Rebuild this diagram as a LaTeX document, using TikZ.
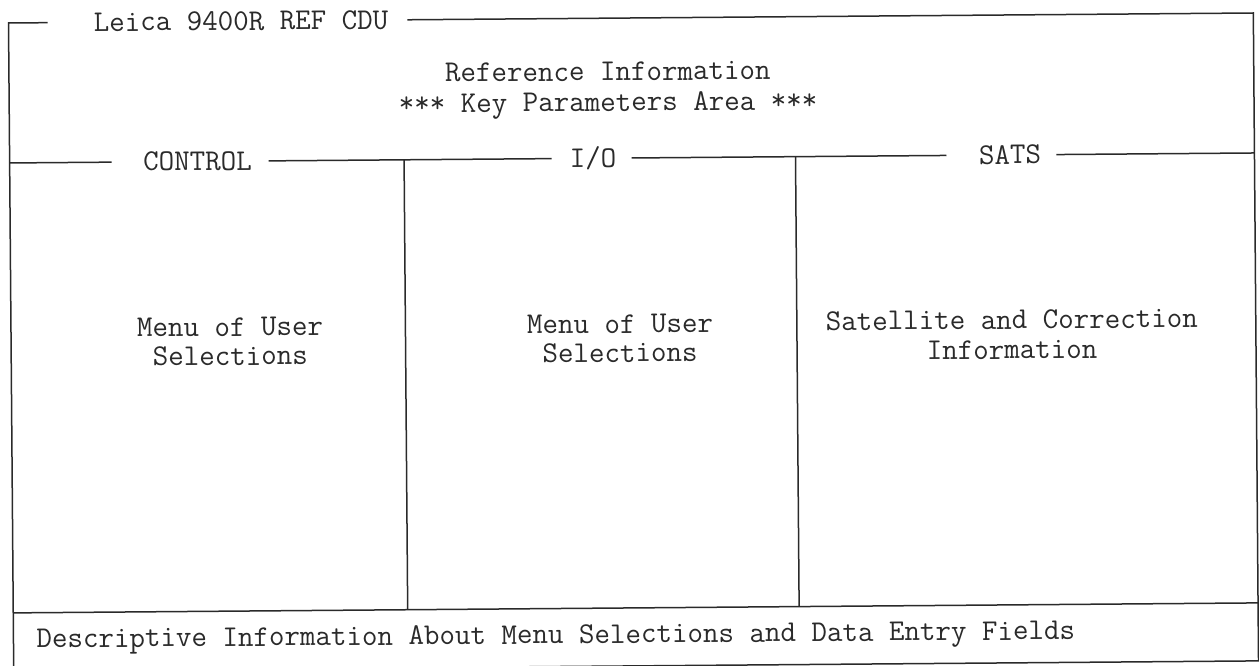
\documentclass[tikz,border=0pt]{standalone}
\usepackage{fontspec}
\definecolor{ink}{HTML}{2A2A2A}
\begin{document}
\begin{tikzpicture}[x=1pt,y=-1pt,
  frame/.style={draw=ink,line width=1.5pt},
  lbl/.style={font=\ttfamily\fontsize{30.1}{28}\selectfont, text=ink, inner sep=0pt, anchor=base, align=center},
  ]
\useasboundingbox (0,0) rectangle (1259,666);
\fill[white] (0,0) rectangle (1259,666);
\begin{scope}[rotate around={0.46:(630,333)}, transform shape]
  % frame corners
  \coordinate (TLa) at (50,18);
  \coordinate (TL) at (11,18);
  \coordinate (BL) at (11,666);
  \coordinate (BR) at (1256,666);
  \coordinate (TR) at (1256,18);
  \coordinate (TRa) at (410,18);
  % middle line pieces
  \coordinate (M0) at (11,158);
  \coordinate (M1) at (113,158);
  \coordinate (M2) at (270,158);
  \coordinate (M3) at (553,158);
  \coordinate (M4) at (633,158);
  \coordinate (M5) at (948,158);
  \coordinate (M6) at (1058,158);
  \coordinate (M7) at (1256,158);
  % dividers
  \coordinate (D1t) at (405.5,158);
  \coordinate (D1b) at (405.5,608);
  \coordinate (D2t) at (797,158);
  \coordinate (D2b) at (797,608);
  \coordinate (B0) at (11,608);
  \coordinate (B1) at (1256,608);

  \draw[frame] (TLa) -- (TL) -- (BL) -- (BR) -- (TR) -- (TRa);
  \draw[frame] (M0) -- (M1);
  \draw[frame] (M2) -- (M3);
  \draw[frame] (M4) -- (M5);
  \draw[frame] (M6) -- (M7);
  \draw[frame] (D1t) -- (D1b);
  \draw[frame] (D2t) -- (D2b);
  \draw[frame] (B0) -- (B1);

  \node[lbl] (title) at (243.5,27) {Leica 9400R REF CDU};
  \node[lbl] (ctl) at (199,167) {CONTROL};
  \node[lbl] (io) at (594.5,167) {I/O};
  \node[lbl] (sats) at (1011.5,167) {SATS};
  \node[lbl, font=\ttfamily\fontsize{30.1}{30.5}\selectfont] (ref) at (610,111) {Reference Information\\*** Key Parameters Area ***};
  \node[lbl, font=\ttfamily\fontsize{30.1}{29}\selectfont] (menu1) at (230,362) {Menu of User\\Selections};
  \node[lbl, font=\ttfamily\fontsize{30.1}{29}\selectfont] (menu2) at (620,362) {Menu of User\\Selections};
  \node[lbl, font=\ttfamily\fontsize{30.1}{30}\selectfont] (sat) at (1012,362) {Satellite and Correction\\Information};
  \node[lbl, anchor=base west] (desc) at (34,643) {Descriptive Information About Menu Selections and Data Entry Fields};
\end{scope}
\end{tikzpicture}
\end{document}
